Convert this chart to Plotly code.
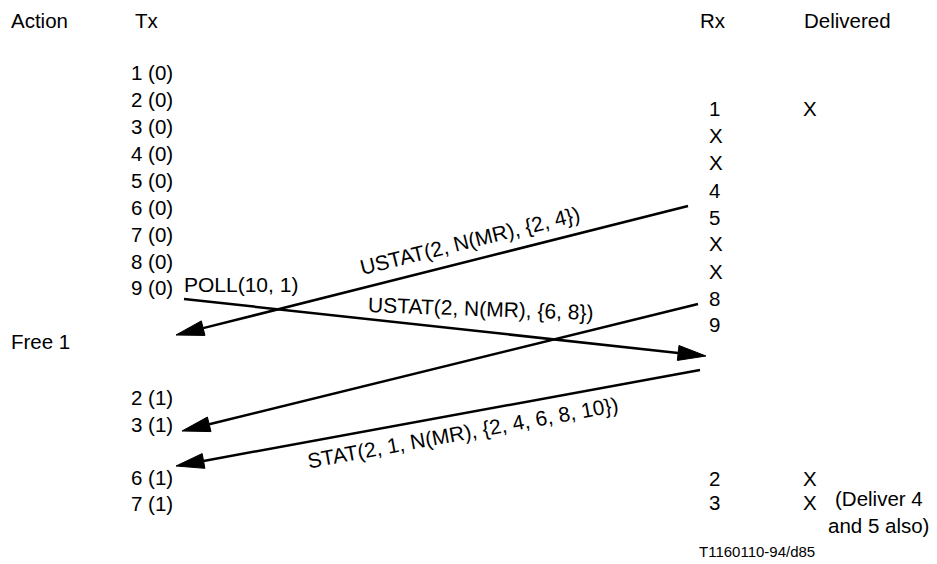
"""Go-back-N style message sequence chart (Tx / Rx timeline)."""

import numpy as np
import plotly.graph_objects as go

W, H = 937, 564
FONT = "Liberation Sans, Arial, sans-serif"
FONT_SIZE = 20.5
LABEL_SIZE = 21

# Column headers
headers = ["Action", "Tx", "Rx", "Delivered"]

# Tx column (sequence number and window count), times
tx_labels = ["1 (0)", "2 (0)", "3 (0)", "4 (0)", "5 (0)", "6 (0)", "7 (0)",
             "8 (0)", "9 (0)", "2 (1)", "3 (1)", "6 (1)", "7 (1)"]
tx_t = [72, 99, 126, 153, 180, 207, 234, 261, 287, 397, 424, 477, 503]

# Action column
action_labels = ["Free 1"]
action_t = [341]

# Rx column
rx_labels = ["1", "X", "X", "4", "5", "X", "X", "8", "9", "2", "3"]
rx_t = [108, 135, 162, 190, 217, 243, 271, 298, 324, 478, 502]

# Delivered column
delivered_labels = ["X", "X", "X"]
delivered_t = [108, 478, 502]
delivered_note = ["(Deliver 4", "and 5 also)"]
delivered_note_split = 512

# Messages: sender end -> receiver end
msg_labels = ["USTAT(2, N(MR), {2, 4})", "POLL(10, 1)",
              "USTAT(2, N(MR), {6, 8})", "STAT(2, 1, N(MR), {2, 4, 6, 8, 10})"]
msg_x0 = [688, 184, 698, 700]
msg_t0 = [206, 299, 304, 370]
msg_x1 = [176, 706, 182, 176]
msg_t1 = [335, 356, 431, 466]

figure_ref = "T1160110-94/d85"

# layout of the columns / labels (pixels)
header_x = [9, 133, 698, 802]
header_y = 20
action_x = 9
tx_x = 129
rx_x = 707
delivered_x = 801
note_x = [833, 826]
label_pos = [(470, 240), (241, 284), (481, 308), (463, 432)]
label_angle = [-14, 0, 2, -10.4]
HEAD_LEN, HEAD_HALF = 28, 7.5
LINE_W = 2.5

fig = go.Figure()
annotations = []


def add_text(x, y, text, size=FONT_SIZE, anchor="left", angle=0, yanchor="middle"):
    annotations.append(dict(
        x=x, y=y, xref="x", yref="y", text=text, showarrow=False,
        xanchor=anchor, yanchor=yanchor, textangle=angle,
        font=dict(family=FONT, size=size, color="black"),
    ))


for hx, h in zip(header_x, headers):
    add_text(hx, header_y, h)
for t, lab in zip(tx_t, tx_labels):
    add_text(tx_x, t, lab)
for t, lab in zip(action_t, action_labels):
    add_text(action_x, t, lab)
for t, lab in zip(rx_t, rx_labels):
    add_text(rx_x, t, lab)
for t, lab in zip(delivered_t, delivered_labels):
    add_text(delivered_x, t, lab)
# the two note lines sit either side of a shared boundary
add_text(note_x[0], delivered_note_split, delivered_note[0], yanchor="bottom")
add_text(note_x[1], delivered_note_split, delivered_note[1], yanchor="top")
add_text(757, 551, figure_ref, size=15, anchor="center")

# arrows: shaft up to the base of a slender filled head
for i, lab in enumerate(msg_labels):
    p0 = np.array([msg_x0[i], msg_t0[i]], dtype=float)
    p1 = np.array([msg_x1[i], msg_t1[i]], dtype=float)
    u = (p1 - p0) / np.linalg.norm(p1 - p0)
    n = np.array([-u[1], u[0]])
    base = p1 - HEAD_LEN * u
    fig.add_trace(go.Scatter(
        x=[p0[0], base[0]], y=[p0[1], base[1]], mode="lines",
        line=dict(color="black", width=LINE_W), hoverinfo="skip",
    ))
    head = np.array([p1, base + HEAD_HALF * n, base - HEAD_HALF * n, p1])
    fig.add_trace(go.Scatter(
        x=head[:, 0], y=head[:, 1], mode="lines", fill="toself",
        fillcolor="black", line=dict(color="black", width=1),
        hoverinfo="skip",
    ))
    lx, ly = label_pos[i]
    add_text(lx, ly, lab, size=LABEL_SIZE, anchor="center", angle=label_angle[i])

fig.update_layout(
    width=W, height=H,
    margin=dict(l=0, r=0, t=0, b=0),
    paper_bgcolor="white", plot_bgcolor="white",
    showlegend=False,
    annotations=annotations,
    xaxis=dict(range=[0, W], visible=False, fixedrange=True),
    yaxis=dict(range=[H, 0], visible=False, fixedrange=True),
)

# page body has a default 8px margin; drop it so the figure fills the window
fig.write_html(
    "out.html",
    config={"displayModeBar": False},
    post_script="document.body.style.margin='0';document.body.style.overflow='hidden';",
)
